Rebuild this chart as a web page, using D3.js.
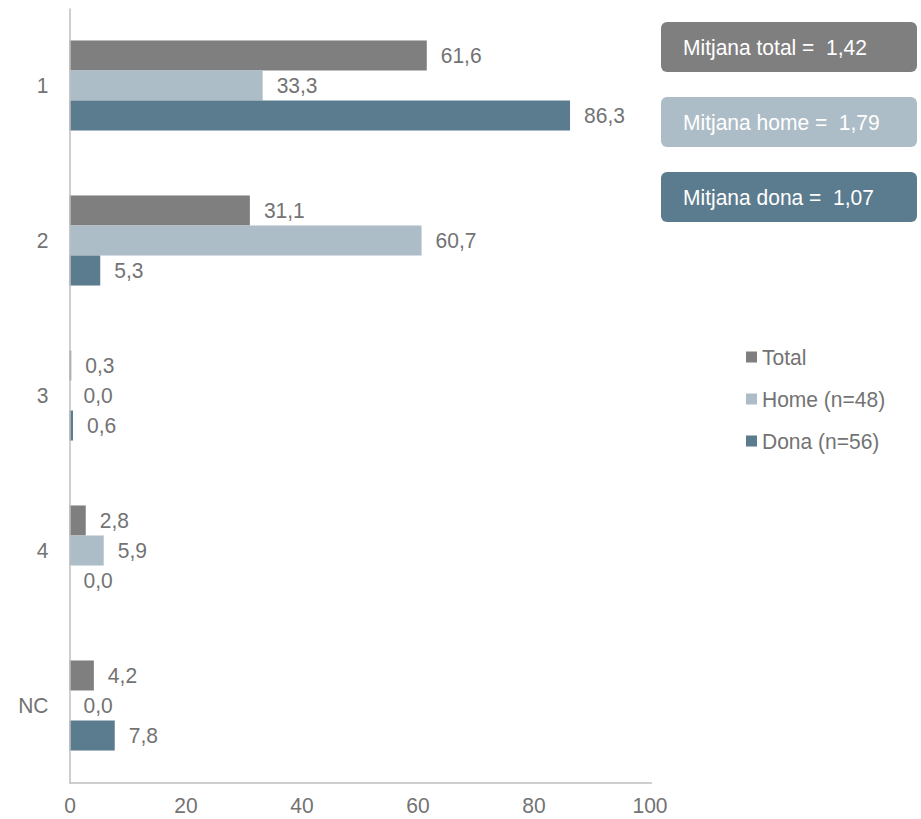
<!DOCTYPE html>
<html>
<head>
<meta charset="utf-8">
<script src="https://cdn.jsdelivr.net/npm/d3@7"></script>
<style>
  body { margin: 0; background: #fff; }
  svg { display: block; font-family: "Liberation Sans", Arial, sans-serif; }
</style>
</head>
<body>
<svg id="chart" width="921" height="819"></svg>
<script>
const categories = ["1", "2", "3", "4", "NC"];
const seriesNames = ["Total", "Home (n=48)", "Dona (n=56)"];
const totalValues = [61.6, 31.1, 0.3, 2.8, 4.2];
const homeValues = [33.3, 60.7, 0.0, 5.9, 0.0];
const donaValues = [86.3, 5.3, 0.6, 0.0, 7.8];
const xTicks = [0, 20, 40, 60, 80, 100];
const meanLabels = ["Mitjana total =  1,42", "Mitjana home =  1,79", "Mitjana dona =  1,07"];
const colors = ["#7f7f7f", "#adbdc7", "#5b7b8e"];

const seriesValues = [totalValues, homeValues, donaValues];
const rows = categories.map((c, i) => ({
  cat: c,
  vals: seriesNames.map((s, j) => ({ s, j, v: seriesValues[j][i] }))
}));

const svg = d3.select("#chart");
const textColor = "#737373";
const fmt = v => d3.format(".1f")(v).replace(".", ",");

const x = d3.scaleLinear().domain([0, 100]).range([69.5, 649.5]);
const y = d3.scaleBand().domain(categories).range([8, 783]).paddingInner(0.419).paddingOuter(0.2095);
const ySub = d3.scaleBand().domain(seriesNames).range([0, y.bandwidth()]);

// bars
const g = svg.append("g");
const groups = g.selectAll("g.cat").data(rows).join("g")
  .attr("class", "cat")
  .attr("transform", d => `translate(0,${y(d.cat)})`);

groups.selectAll("rect").data(d => d.vals).join("rect")
  .attr("x", x(0))
  .attr("y", d => ySub(d.s))
  .attr("width", d => x(d.v) - x(0))
  .attr("height", ySub.bandwidth())
  .attr("fill", d => colors[d.j]);

groups.selectAll("text").data(d => d.vals).join("text")
  .attr("class", "lbl")
  .attr("x", d => x(d.v) + 14)
  .attr("y", d => ySub(d.s) + ySub.bandwidth() / 2)
  .attr("dy", "0.35em")
  .attr("font-size", 21)
  .attr("fill", textColor)
  .text(d => fmt(d.v));

// axes
const xAxis = d3.axisBottom(x).tickValues(xTicks).tickSize(0).tickPadding(14).tickFormat(d3.format("d"));
const gx = svg.append("g").attr("transform", "translate(0,783)").call(xAxis);
gx.select(".domain").attr("stroke", "#bfbfbf").attr("stroke-width", 1.5).attr("d", "M69.5,0H652");
gx.selectAll("text").attr("class", "lbl").attr("font-size", 21).attr("fill", textColor).attr("font-family", "Liberation Sans, Arial, sans-serif");

const yAxis = d3.axisLeft(y).tickSize(0).tickPadding(21);
const gy = svg.append("g").attr("transform", "translate(69.5,0)").call(yAxis);
gy.select(".domain").attr("stroke", "#bfbfbf").attr("stroke-width", 1.5);
gy.selectAll("text").attr("class", "lbl").attr("font-size", 21).attr("fill", textColor).attr("font-family", "Liberation Sans, Arial, sans-serif");

// mean boxes
const boxY = d3.scalePoint().domain(meanLabels).range([22, 172]);
const boxes = svg.append("g").selectAll("g").data(meanLabels).join("g")
  .attr("transform", d => `translate(661,${boxY(d)})`);
boxes.append("rect")
  .attr("width", 256).attr("height", 50).attr("rx", 6).attr("ry", 6)
  .attr("fill", (d, i) => colors[i]);
boxes.append("text")
  .attr("class", "lbl")
  .attr("x", 22).attr("y", 25).attr("dy", "0.35em")
  .attr("font-size", 21).attr("fill", "#ffffff")
  .attr("xml:space", "preserve")
  .style("white-space", "pre")
  .text(d => d);

// legend
const legY = d3.scalePoint().domain(seriesNames).range([357, 441]);
const leg = svg.append("g").selectAll("g").data(seriesNames).join("g")
  .attr("transform", d => `translate(746,${legY(d)})`);
leg.append("rect").attr("x", 0).attr("y", -5.5).attr("width", 11).attr("height", 11)
  .attr("fill", (d, i) => colors[i]);
leg.append("text").attr("class", "lbl").attr("x", 16).attr("y", 0).attr("dy", "0.35em")
  .attr("font-size", 21).attr("fill", textColor).text(d => d);

// make glyphs slightly taller while keeping the same width (narrower look of reference)
svg.selectAll("text.lbl").each(function () {
  const w = this.getComputedTextLength();
  d3.select(this)
    .attr("font-size", 22.5)
    .attr("textLength", w)
    .attr("lengthAdjust", "spacingAndGlyphs");
});
</script>
</body>
</html>
